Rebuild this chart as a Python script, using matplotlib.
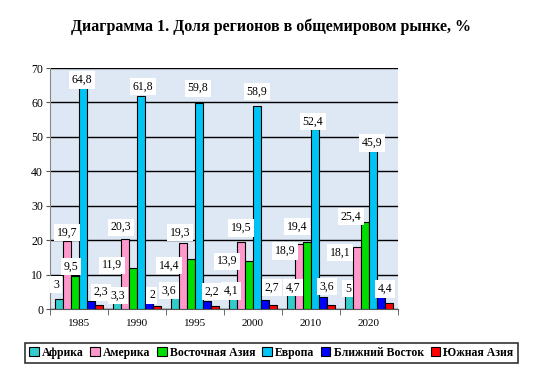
import matplotlib
matplotlib.use("Agg")
import matplotlib.pyplot as plt
import numpy as np

plt.rcParams['font.family'] = ['Liberation Serif', 'DejaVu Serif']

years = ['1985', '1990', '1995', '2000', '2010', '2020']
regions = ['Африка', 'Америка', 'Восточная Азия', 'Европа', 'Ближний Восток', 'Южная Азия']
africa = [3.0, 3.3, 3.6, 4.1, 4.7, 5.0]
america = [19.7, 20.3, 19.3, 19.5, 18.9, 18.1]
east_asia = [9.5, 11.9, 14.4, 13.9, 19.4, 25.4]
europe = [64.8, 61.8, 59.8, 58.9, 52.4, 45.9]
middle_east = [2.3, 2.0, 2.2, 2.7, 3.6, 4.4]
south_asia = [1.2, 1.0, 1.0, 1.1, 1.3, 1.7]
series = [africa, america, east_asia, europe, middle_east, south_asia]
labeled = [True, True, True, True, True, False]
colors = ['#33cccc', '#ff99cc', '#00dd00', '#00c4f4', '#0000ff', '#ff0000']

# label offsets in pixels (dx, dy up) relative to bar top centre, per series per year
label_offsets = [
    [(-3, 14), (1, 2), (-6, 6), (-2, 4), (2, 5), (-1, 3)],
    [(0, 9), (-4, 12), (-3, 10), (0, 14), (-14, -7), (-17, -6)],
    [(-4, 10), (-21, 3), (-22, -6), (-22, 0), (-10, 16), (-14, 5)],
    [(-1, 6), (2, 10), (-1, 15), (0, 15), (-2, 7), (-1, 8)],
    [(10, 9), (3, 7), (5, 10), (7, 12), (4, 10), (4, 5)],
    [(0, 0)] * 6,
]

fig = plt.figure(figsize=(5.46, 3.76), dpi=100)
ax = fig.add_axes([0.0916, 0.178, 0.637, 0.641])
ax.set_facecolor('#dde8f4')

x = np.arange(len(years))
n = len(series)
w = 0.138
for i, (vals, c) in enumerate(zip(series, colors)):
    pos = x + (i - (n - 1) / 2) * w
    ax.bar(pos, vals, width=w, color=c, edgecolor='black', linewidth=0.8, zorder=3)
    if labeled[i]:
        for j, (p, v) in enumerate(zip(pos, vals)):
            dx, dy = label_offsets[i][j]
            ax.annotate(f"{v:g}".replace('.', ','), xy=(p, v), xytext=(dx, dy),
                        textcoords='offset pixels', ha='center', va='center',
                        fontsize=8.5, zorder=5,
                        bbox=dict(boxstyle='square,pad=0.22', fc='white', ec='none'))

ax.set_ylim(0, 70)
ax.set_xlim(-0.5, len(years) - 0.5)
ax.set_yticks(range(0, 71, 10))
ax.yaxis.grid(True, color='black', linewidth=1.0, zorder=1)
ax.set_axisbelow(True)
ax.set_xticks(x)
ax.set_xticklabels(years)
ax.tick_params(axis='x', length=0, labelsize=8, pad=7)
ax.set_xticks(np.arange(-0.5, len(years), 1), minor=True)
ax.tick_params(axis='x', which='minor', length=4, color='#555555')
ax.tick_params(axis='y', labelsize=8.5, length=3, color='#555555', pad=2)
for s in ['top', 'right']:
    ax.spines[s].set_visible(False)
ax.spines['left'].set_color('#888888')
ax.spines['bottom'].set_color('#555555')

fig.text(0.497, 0.928, 'Диаграмма 1. Доля регионов в общемировом рынке, %',
         ha='center', va='center', fontsize=11.5, fontweight='bold')

handles = [plt.Rectangle((0, 0), 1, 1, fc=c, ec='black', lw=0.8) for c in colors]
leg = fig.legend(handles, regions, loc='center', bbox_to_anchor=(0.497, 0.061), ncol=6,
                 frameon=True, fancybox=False, edgecolor='black',
                 prop={'weight': 'bold', 'size': 8.5}, handlelength=0.8, handleheight=0.8,
                 handletextpad=0.3, columnspacing=0.55, borderpad=0.35, borderaxespad=0)
leg.get_frame().set_linewidth(1.2)

fig.savefig('out.png', dpi=100)
